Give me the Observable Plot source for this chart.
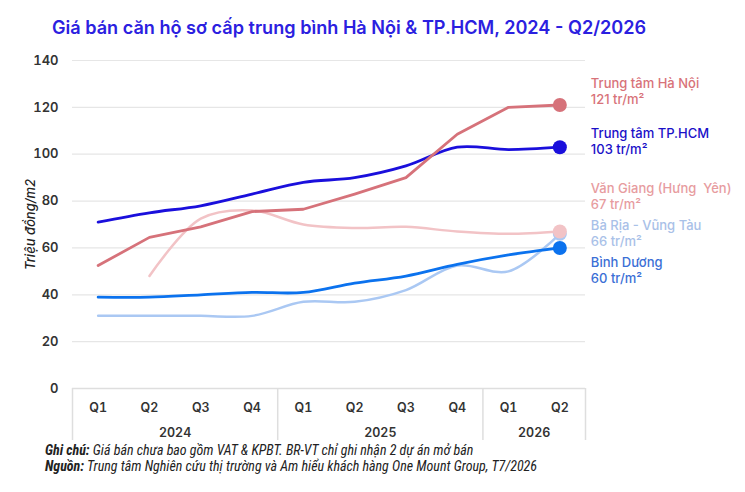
<!DOCTYPE html>
<html>
<head>
<meta charset="utf-8">
<script src="https://cdn.jsdelivr.net/npm/d3@7"></script>
<script src="https://cdn.jsdelivr.net/npm/@observablehq/plot@0.6"></script>
<style>
  html, body { margin: 0; padding: 0; background: #fff; }
  body { width: 745px; height: 492px; position: relative; overflow: hidden; font-family: Inter, "Noto Sans", sans-serif; }
  #title { position: absolute; left: 52px; top: 16px; font-size: 18.1px; font-weight: 600; color: #2b20e0; white-space: nowrap; }
  #chart { position: absolute; left: 0; top: 48px; }
  #notes { position: absolute; left: 45px; top: 443px; font-family: "Liberation Sans Narrow", "Roboto Condensed", "Arial Narrow", sans-serif; font-style: italic; font-size: 14px; line-height: 15.5px; color: #222; white-space: nowrap; }
  #notes b { font-weight: 700; }
</style>
</head>
<body>
<div id="title">Giá bán căn hộ sơ cấp trung bình Hà Nội &amp; TP.HCM, 2024 - Q2/2026</div>
<div id="chart"></div>
<div id="notes">
  <div><b>Ghi chú:</b> Giá bán chưa bao gồm VAT &amp; KPBT. BR-VT chỉ ghi nhận 2 dự án mở bán</div>
  <div><b>Nguồn:</b> Trung tâm Nghiên cứu thị trường và Am hiểu khách hàng One Mount Group, T7/2026</div>
</div>
<script>
// Quarters along the x axis and the year each one belongs to
const quarters = ["Q1", "Q2", "Q3", "Q4", "Q1", "Q2", "Q3", "Q4", "Q1", "Q2"];
const years = ["2024", "2024", "2024", "2024", "2025", "2025", "2025", "2025", "2026", "2026"];
const yTicks = [0, 20, 40, 60, 80, 100, 120, 140];

// Average primary apartment price, million VND per m2
const hanoiCenter = [52.5, 64.5, 69, 75.5, 76.5, 83, 90, 108.5, 120, 121];
const hcmCenter = [71, 75, 78, 83, 88, 90, 95, 103, 102, 103];
const vanGiang = [null, 48, 72.5, 76, 70, 68.5, 69, 67, 66, 67];
const baRiaVungTau = [31, 31, 31, 31, 37, 37, 42, 52.5, 50, 66];
const binhDuong = [39, 39, 40, 41, 41, 45, 48, 53, 57, 60];

const unit = "tr/m²";

// Series definitions: name, values and how each is drawn
const series = [
  { name: "Bà Rịa - Vũng Tàu", values: baRiaVungTau, stroke: "#aac8f3", label: "#a9c1e8", curve: "catmull-rom", width: 2.5, shift: -1 },
  { name: "Văn Giang (Hưng  Yên)", values: vanGiang, stroke: "#f2c3c6", label: "#e79c9f", curve: "catmull-rom", width: 2.5, shift: -35.5 },
  { name: "Bình Dương", values: binhDuong, stroke: "#0b72ee", label: "#3b6fd6", curve: "catmull-rom", width: 2.8, shift: 22 },
  { name: "Trung tâm TP.HCM", values: hcmCenter, stroke: "#1a0fdc", label: "#1a10c8", curve: "catmull-rom", width: 2.8, shift: -6 },
  { name: "Trung tâm Hà Nội", values: hanoiCenter, stroke: "#d6727a", label: "#d87279", curve: "linear", width: 2.8, shift: -14.5 }
];

const rows = (s) => s.values.map((v, i) => ({ i, v, name: s.name })).filter(d => d.v != null);

// Year groups: separators between years and a centred label for each
const yearNames = [...new Set(years)];
const yearSpans = yearNames.map(y => {
  const idx = years.map((d, i) => d === y ? i : -1).filter(i => i >= 0);
  return { year: y, start: idx[0] - 0.5, end: idx[idx.length - 1] + 0.5, mid: (idx[0] + idx[idx.length - 1]) / 2 };
});
const separators = [yearSpans[0].start, ...yearSpans.map(d => d.end)];

const axisFont = { fontSize: 12.5, fontWeight: 600, fill: "#333" };

const marks = [
  Plot.gridY({ ticks: yTicks.filter(t => t > 0), stroke: "#e6e6e6", strokeOpacity: 1, strokeWidth: 1.2 }),
  Plot.ruleY([0], { stroke: "#dedede", strokeWidth: 1.5 }),
  Plot.axisY({ ticks: yTicks, tickSize: 0, tickPadding: 14, tickFormat: d => d, label: null, ...axisFont, fontSize: 13 }),
  Plot.text(["Triệu đồng/m2"], { text: d => d, frameAnchor: "left", textAnchor: "middle", dx: -42, rotate: -90, fontStyle: "italic", fontSize: 13, fill: "#222", fontWeight: 500 }),
  // table-style x axis: year separators, quarters, years
  Plot.axisX({ ticks: separators, tickSize: 52, tickFormat: () => "", label: null, stroke: "#dedede", strokeWidth: 1.5 }),
  Plot.axisX({ ticks: d3.range(quarters.length), tickSize: 0, tickPadding: 15, tickFormat: i => quarters[i], label: null, ...axisFont }),
  Plot.axisX({ ticks: yearSpans.map(d => d.mid), tickSize: 0, tickPadding: 40, tickFormat: m => yearSpans.find(d => d.mid === m).year, label: null, ...axisFont })
];

for (const s of series) {
  marks.push(Plot.lineY(rows(s), { x: "i", y: "v", stroke: s.stroke, strokeWidth: s.width, curve: s.curve }));
}
for (const s of series) {
  const last = rows(s).slice(-1);
  marks.push(Plot.dot(last, { x: "i", y: "v", r: 7, fill: s.stroke, stroke: "none" }));
  marks.push(Plot.text(last, {
    x: "i", y: "v",
    text: d => `${s.name}\n${d.v} ${unit}`,
    textAnchor: "start", lineAnchor: "middle", lineHeight: 1.24,
    dx: 31, dy: s.shift,
    fill: s.label, fontSize: 13, fontWeight: 500
  }));
}

const chart = Plot.plot({
  width: 745,
  height: 400,
  marginLeft: 72,
  marginRight: 160,
  marginTop: 12,
  marginBottom: 60,
  style: { fontFamily: "Inter, 'Noto Sans', sans-serif", background: "#fff", overflow: "visible" },
  x: { type: "linear", domain: [-0.5, quarters.length - 0.5], axis: null },
  y: { domain: [0, 140], axis: null },
  marks
});
document.getElementById("chart").appendChild(chart);
</script>
</body>
</html>
